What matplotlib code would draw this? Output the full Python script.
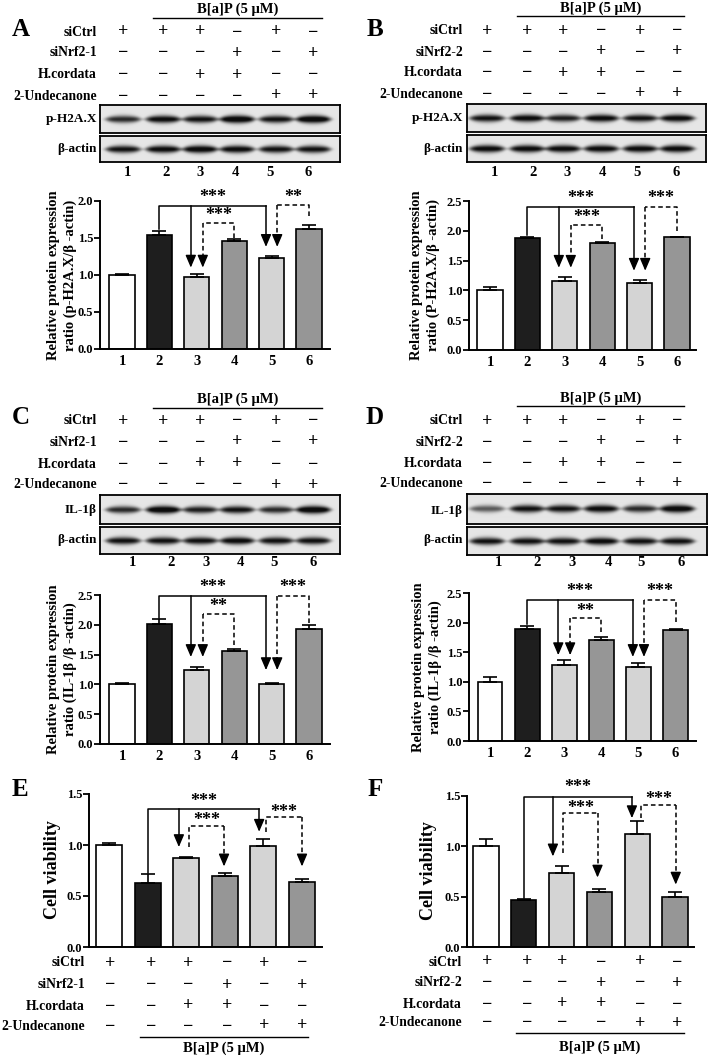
import matplotlib
matplotlib.use('Agg')
import matplotlib.pyplot as plt
import numpy as np
from matplotlib.lines import Line2D

# 数据
lanes = ['1', '2', '3', '4', '5', '6']
rows_1 = ['siCtrl', 'siNrf2-1', 'H.cordata', '2-Undecanone']
rows_2 = ['siCtrl', 'siNrf2-2', 'H.cordata', '2-Undecanone']
signs = [['+', '+', '+', '−', '+', '−'],
         ['−', '−', '−', '+', '−', '+'],
         ['−', '−', '+', '+', '−', '−'],
         ['−', '−', '−', '−', '+', '+']]

a_vals = [1.00, 1.54, 0.97, 1.46, 1.23, 1.62]
a_err = [0.01, 0.05, 0.04, 0.02, 0.02, 0.05]
b_vals = [1.00, 1.88, 1.16, 1.80, 1.12, 1.89]
b_err = [0.06, 0.02, 0.06, 0.01, 0.05, 0.01]
c_vals = [1.00, 2.01, 1.25, 1.56, 1.00, 1.93]
c_err = [0.03, 0.09, 0.05, 0.04, 0.03, 0.07]
d_vals = [1.00, 1.90, 1.28, 1.71, 1.25, 1.87]
d_err = [0.08, 0.05, 0.08, 0.05, 0.07, 0.03]
e_vals = [1.00, 0.63, 0.87, 0.70, 0.99, 0.64]
e_err = [0.02, 0.09, 0.01, 0.03, 0.07, 0.025]
f_vals = [1.00, 0.47, 0.74, 0.55, 1.12, 0.50]
f_err = [0.07, 0.01, 0.06, 0.025, 0.13, 0.045]

# band strength per lane (western blots)
a_ph2ax = [0.75, 0.9, 0.85, 1.0, 0.85, 1.0]
a_actin = [0.85, 0.9, 0.95, 0.9, 0.85, 0.85]
b_ph2ax = [0.85, 0.9, 0.8, 0.9, 0.85, 0.9]
b_actin = [0.9, 0.9, 0.9, 0.9, 0.9, 0.9]
c_il = [0.75, 1.0, 0.8, 0.85, 0.75, 1.0]
c_actin = [0.85, 0.85, 0.85, 0.9, 0.85, 0.85]
d_il = [0.55, 0.85, 0.85, 0.9, 0.75, 0.95]
d_actin = [0.85, 0.85, 0.85, 0.9, 0.85, 0.85]

bar_colors = ['white', '#1e1e1e', '#d4d4d4', '#969696', '#d4d4d4', '#969696']

W, H = 709, 1058
plt.rcParams['font.family'] = ['Liberation Serif', 'DejaVu Serif']
plt.rcParams['font.weight'] = 'bold'

fig = plt.figure(figsize=(7.09, 10.58), dpi=100)

ROW_FS = 9.8
SIGN_FS = 13
STAR_FS = 13


def fx(x):
    return x / W


def fy(y):
    return 1 - y / H


def px_axes(x0, y0, x1, y1):
    return fig.add_axes([x0 / W, 1 - y1 / H, (x1 - x0) / W, (y1 - y0) / H])


def text(x, y, s, size, ha='center', **kw):
    fig.text(fx(x), fy(y), s, ha=ha, va='center', fontsize=size, fontweight='bold', **kw)


def sign_table(lane_x, label_x, row_y, names):
    for r, name in enumerate(names):
        text(label_x, row_y[r], name, ROW_FS, ha='right')
        for j, s in enumerate(signs[r]):
            text(lane_x[j], row_y[r], s, SIGN_FS)


def bap(x0, x1, y_line, y_text):
    fig.add_artist(Line2D([fx(x0), fx(x1)], [fy(y_line)] * 2, color='k', lw=1.0))
    text((x0 + x1) / 2, y_text, 'B[a]P (5 μM)', 10.5)


def blot(box, lane_x, amps):
    x0, y0, x1, y1 = box
    ax = px_axes(x0, y0, x1, y1)
    xx, yy = np.meshgrid(np.arange(x0, x1, 0.5), np.arange(y0, y1, 0.5))
    yc = (y0 + y1) / 2
    img = np.full(xx.shape, 0.9)
    for cx, a in zip(lane_x, amps):
        u = (xx - cx) / 17.5
        prof = np.exp(-u ** 6)
        thick = 3.6 * np.clip(1 - 0.45 * u ** 2, 0.3, None) * (0.8 + 0.3 * a)
        img -= 1.0 * a * prof * np.exp(-((yy - yc) / thick) ** 2)
    ax.imshow(np.clip(img, 0.05, 1), cmap='gray', vmin=0, vmax=1,
              extent=[x0, x1, y1, y0], aspect='auto', interpolation='bilinear')
    ax.set_xticks([])
    ax.set_yticks([])
    for sp in ax.spines.values():
        sp.set_linewidth(1.3)


def bar_panel(box, c1, s, ytop, vals, errs, xlabels=True):
    x0, y0, x1, y1 = box
    ax = px_axes(x0, y0, x1, y1)
    pos = np.arange(1, 7)
    ax.bar(pos, vals, width=0.67, color=bar_colors, edgecolor='k', linewidth=1.2,
           yerr=[np.zeros(6), errs], capsize=5,
           error_kw=dict(elinewidth=1.2, capthick=1.2, ecolor='k'), zorder=2)
    ax.set_xlim(1 + (x0 - c1) / s, 1 + (x1 - c1) / s)
    ax.set_ylim(0, ytop)
    ax.set_yticks(np.arange(0, ytop + 0.01, 0.5))
    ax.set_yticklabels(['%.1f' % t for t in np.arange(0, ytop + 0.01, 0.5)])
    for sp in ['top', 'right']:
        ax.spines[sp].set_visible(False)
    for sp in ['left', 'bottom']:
        ax.spines[sp].set_linewidth(1.4)
    ax.tick_params(axis='y', direction='out', length=4, width=1.3, labelsize=9, pad=1)
    if xlabels:
        ax.set_xticks(pos)
        ax.set_xticklabels(lanes)
        ax.tick_params(axis='x', length=0, labelsize=10.5, pad=4)
    else:
        ax.set_xticks([])
    for lab in ax.get_xticklabels() + ax.get_yticklabels():
        lab.set_fontweight('bold')
    ax.head = ytop / (y1 - y0) * 10
    return ax


def varrow(ax, x, ytop, ytip, dashed):
    ls = (0, (3, 2)) if dashed else '-'
    ax.plot([x, x], [ytop, ytip + ax.head * 0.5], color='k', lw=1.1, ls=ls, clip_on=False)
    ax.annotate('', xy=(x, ytip), xytext=(x, ytip + ax.head),
                arrowprops=dict(arrowstyle='-|>,head_length=0.75,head_width=0.32',
                                color='k', lw=1.0, shrinkA=0, shrinkB=0),
                annotation_clip=False)


def bracket(ax, xa, ya, xb, level, tip, dashed, star, star_y):
    ls = (0, (3, 2)) if dashed else '-'
    ax.plot([xa, xa, xb], [ya, level, level], color='k', lw=1.1, ls=ls, clip_on=False)
    varrow(ax, xb, level, tip, dashed)
    ax.text((xa + xb) / 2, star_y, star, ha='center', va='center', fontsize=STAR_FS,
            fontweight='bold', clip_on=False)


def annot_top(ax, solid, d1, d2):
    # solid: start, level, tip3, tip5, star_y ; d1/d2: start, level, tip, star, star_y
    s0, lv, t3, t5, sy = solid
    bracket(ax, 2, s0, 4.85, lv, t5, False, '***', sy)
    varrow(ax, 2.84, lv, t3, False)
    bracket(ax, 4, d1[0], 3.16, d1[1], d1[2], True, d1[3], d1[4])
    bracket(ax, 6, d2[0], 5.15, d2[1], d2[2], True, d2[3], d2[4])


left_lanes = [123, 163, 200, 237, 276, 313]
right_lanes = [487, 527, 563, 601, 640, 677]
YL_FS = 10.5

# ---------- A ----------
text(21, 30, 'A', 18)
bap(153, 322, 18, 9)
sign_table(left_lanes, 97, [32, 53, 75, 96], rows_1)
blot([100, 105, 340, 133], left_lanes, a_ph2ax)
blot([100, 136, 340, 162], left_lanes, a_actin)
text(97, 119, 'p-H2A.X', 9.5, ha='right')
text(97, 149, 'β-actin', 9.5, ha='right')
for x, l in zip([127, 166, 200, 235, 270, 308], lanes):
    text(x, 173, l, 10.5)
ax = bar_panel([100, 201, 330, 349], 122, 37.4, 2.0, a_vals, a_err)
annot_top(ax, (1.62, 1.93, 1.10, 1.38, 2.05),
          (1.50, 1.70, 1.10, '***', 1.80), (1.80, 1.94, 1.38, '**', 2.05))
text(62, 275, 'Relative protein expression\nratio (p-H2A.X/β -actin)', YL_FS,
     rotation=90, linespacing=1.25)

# ---------- B ----------
text(375, 30, 'B', 18)
bap(517, 684, 16, 8)
sign_table(right_lanes, 463, [31, 52, 73, 94], rows_2)
blot([467, 104, 706, 132], right_lanes, b_ph2ax)
blot([467, 135, 706, 162], right_lanes, b_actin)
text(463, 118, 'p-H2A.X', 9.5, ha='right')
text(463, 149, 'β-actin', 9.5, ha='right')
for x, l in zip([494, 533, 567, 602, 637, 676], lanes):
    text(x, 173, l, 10.5)
ax = bar_panel([469, 201, 696, 350], 490, 37.4, 2.5, b_vals, b_err)
annot_top(ax, (1.93, 2.40, 1.38, 1.33, 2.55),
          (1.86, 2.10, 1.38, '***', 2.22), (2.00, 2.40, 1.33, '***', 2.55))
text(425, 275, 'Relative protein expression\nratio (P-H2A.X/β -actin)', YL_FS,
     rotation=90, linespacing=1.25)

# ---------- C ----------
text(21, 417, 'C', 18)
bap(153, 322, 408, 399)
sign_table(left_lanes, 97, [421, 442, 464, 485], rows_1)
blot([100, 495, 340, 524], left_lanes, c_il)
blot([100, 527, 340, 554], left_lanes, c_actin)
text(97, 510, 'IL-1β', 9.5, ha='right')
text(97, 540, 'β-actin', 9.5, ha='right')
for x, l in zip([132, 171, 206, 240, 274, 313], lanes):
    text(x, 563, l, 10.5)
ax = bar_panel([100, 595, 330, 744], 122, 37.4, 2.5, c_vals, c_err)
annot_top(ax, (2.12, 2.48, 1.46, 1.24, 2.63),
          (1.66, 2.18, 1.46, '**', 2.30), (2.03, 2.48, 1.24, '***', 2.63))
text(62, 669, 'Relative protein expression\nratio (IL-1β /β -actin)', YL_FS,
     rotation=90, linespacing=1.25)

# ---------- D ----------
text(375, 417, 'D', 18)
bap(517, 684, 406, 398)
sign_table(right_lanes, 463, [421, 442, 463, 484], rows_2)
blot([467, 494, 707, 524], right_lanes, d_il)
blot([467, 527, 707, 555], right_lanes, d_actin)
text(463, 511, 'IL-1β', 9.5, ha='right')
text(463, 540, 'β-actin', 9.5, ha='right')
for x, l in zip([498, 537, 572, 608, 641, 681], lanes):
    text(x, 563, l, 10.5)
ax = bar_panel([469, 593, 696, 741], 490, 37.1, 2.5, d_vals, d_err)
annot_top(ax, (1.97, 2.39, 1.45, 1.42, 2.53),
          (1.84, 2.08, 1.45, '**', 2.18), (2.01, 2.39, 1.42, '***', 2.53))
text(427, 667, 'Relative protein expression\nratio (IL-1β /β -actin)', YL_FS,
     rotation=90, linespacing=1.25)

# ---------- E ----------
text(20, 790, 'E', 18)
ax = bar_panel([89, 794, 322, 947], 109, 38.6, 1.5, e_vals, e_err, xlabels=False)
bracket(ax, 2, 0.73, 4.89, 1.35, 1.13, False, '***', 1.43)
varrow(ax, 2.81, 1.35, 0.98, False)
bracket(ax, 3.08, 0.98, 3.98, 1.19, 0.79, True, '***', 1.24)
bracket(ax, 5.08, 1.13, 6.0, 1.27, 0.79, True, '***', 1.32)
text(53, 870, 'Cell viability', 13, rotation=90)
sign_table([110, 151, 188, 227, 264, 302], 85, [963, 985, 1006, 1026], rows_1)
bap(140, 308, 1037, 1048)

# ---------- F ----------
text(375, 790, 'F', 18)
ax = bar_panel([467, 796, 694, 947], 486, 37.8, 1.5, f_vals, f_err, xlabels=False)
bracket(ax, 2, 0.49, 4.86, 1.49, 1.28, False, '***', 1.58)
varrow(ax, 2.77, 1.49, 0.90, False)
bracket(ax, 3.04, 0.93, 3.95, 1.33, 0.69, True, '***', 1.38)
bracket(ax, 5.10, 1.28, 6.02, 1.41, 0.62, True, '***', 1.47)
text(429, 871, 'Cell viability', 13, rotation=90)
sign_table([487, 527, 562, 601, 640, 677], 462, [962, 983, 1004, 1023], rows_2)
bap(516, 684, 1033, 1047)

fig.savefig('out.png', dpi=100, facecolor='white')
